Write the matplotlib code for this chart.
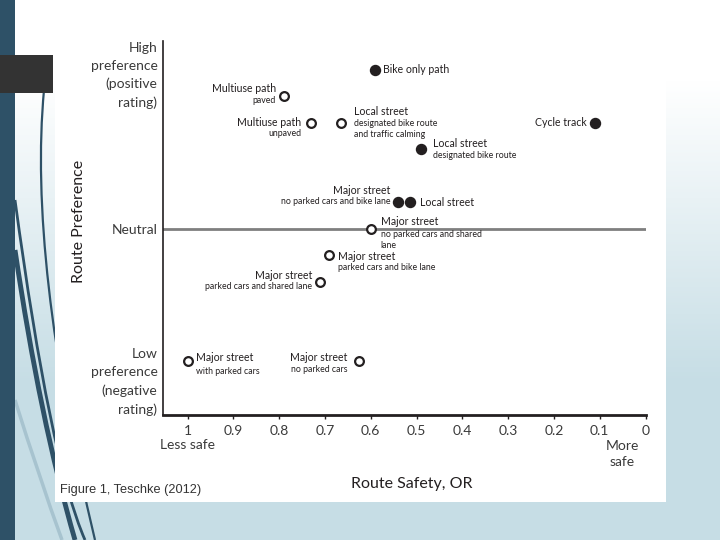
import numpy as np
import matplotlib.pyplot as plt
from matplotlib.patches import Rectangle, PathPatch
from matplotlib.path import Path
from matplotlib.transforms import blended_transform_factory

# --- values ---
safety_or = [0.59, 0.79, 0.73, 0.665, 0.11, 0.49, 0.54, 0.515, 0.60, 0.69, 0.71, 1.0, 0.625]
preference = [6, 5, 4, 4, 4, 3, 1, 1, 0, -1, -2, -5, -5]
filled = [True, False, False, False, True, True, True, True, False, False, False, False, False]
titles = ["Bike only path", "Multiuse path", "Multiuse path", "Local street", "Cycle track",
          "Local street", "Major street", "Local street", "Major street", "Major street",
          "Major street", "Major street", "Major street"]
subtitles = ["", "paved", "unpaved", "designated bike route\nand traffic calming", "",
             "designated bike route", "no parked cars and bike lane", "",
             "no parked cars and shared\nlane", "parked cars and bike lane",
             "parked cars and shared lane", "with parked cars", "no parked cars"]
x_ticks = [1, 0.9, 0.8, 0.7, 0.6, 0.5, 0.4, 0.3, 0.2, 0.1, 0]
x_tick_labels = ["1", "0.9", "0.8", "0.7", "0.6", "0.5", "0.4", "0.3", "0.2", "0.1", "0"]
y_ticks = [5.95, 0, -5.62]
y_tick_labels = ["High\npreference\n(positive\nrating)", "Neutral",
                 "Low\npreference\n(negative\nrating)"]

# label placement: (dx px, title dy px, subtitle dy px, ha)
layout = [(8, 0, 0, "left"), (-8, 8, -4, "right"), (-10, 0, -11, "right"),
          (13, 11, -1, "left"), (-8, 0, 0, "right"), (12, 6, -6, "left"),
          (-8, 12, 1, "right"), (10, 0, 0, "left"), (10, 7, -6, "left"),
          (9, -1, -12, "left"), (-8, 6, -5, "right"), (8, 4, -10, "left"),
          (-12, 4, -8, "right")]

FONT = ["Lato", "DejaVu Sans"]
TXT = "#231f20"
W, H = 720, 540

fig = plt.figure(figsize=(7.2, 5.4), dpi=100)

# --- slide background ---
bg = fig.add_axes([0, 0, 1, 1], zorder=-10)
bg.set_xlim(0, W); bg.set_ylim(H, 0); bg.axis("off")
t = np.clip((np.linspace(0, 1, 256) - 0.15) / 0.55, 0, 1)[:, None]
top = np.array([1.0, 1.0, 1.0]); bot = np.array([0.78, 0.87, 0.90])
grad = top[None, None, :] * (1 - t[..., None]) + bot[None, None, :] * t[..., None]
grad = np.repeat(grad, 4, axis=1)
bg.imshow(grad, extent=(0, W, H, 0), aspect="auto")

for (p0, c, p1, lw, col) in [((44, 90), (28, 260), (95, 540), 1.6, "#2e5167"),
                             ((15, 250), (40, 420), (75, 540), 3.5, "#2e5167"),
                             ((15, 200), (50, 460), (85, 540), 2.0, "#2e5167"),
                             ((15, 400), (40, 480), (62, 540), 2.5, "#a7c3cf")]:
    path = Path([p0, c, p1], [Path.MOVETO, Path.CURVE3, Path.CURVE3])
    bg.add_patch(PathPatch(path, fill=False, lw=lw, edgecolor=col))

bg.add_patch(Rectangle((0, 0), 15, H, color="#2e5167", lw=0))
bg.add_patch(Rectangle((55, 30), 611, 472, color="white", lw=0))
bg.add_patch(Rectangle((0, 55), 53, 38, color="#333333", lw=0))

# --- chart ---
ax = fig.add_axes([163 / W, 1 - 415 / H, (645.5 - 163) / W, (415 - 41) / H])
ax.set_facecolor("none")
ax.set_xlim(1.0535, 0)
ax.set_ylim(-7.02, 7.09)

ax.axhline(0, color="#7f7f7f", lw=2, zorder=1)

for i in range(len(safety_or)):
    if filled[i]:
        ax.plot(safety_or[i], preference[i], "o", ms=7.2, color="#231f20", zorder=3)
    else:
        ax.plot(safety_or[i], preference[i], "o", ms=6.3, mfc="white", mec="#231f20",
                mew=1.6, zorder=3)
    dx, dyt, dys, ha = layout[i]
    ax.annotate(titles[i], (safety_or[i], preference[i]), xytext=(dx, dyt),
                textcoords="offset pixels", ha=ha, va="center", fontsize=7.6,
                color=TXT, family=FONT)
    for k, line in enumerate(subtitles[i].split("\n")):
        if line:
            ax.annotate(line, (safety_or[i], preference[i]), xytext=(dx, dys - 11 * k),
                        textcoords="offset pixels", ha=ha, va="center", fontsize=6.3,
                        color=TXT, family=FONT)

for s in ["top", "right"]:
    ax.spines[s].set_visible(False)
ax.spines["left"].set_linewidth(1.2)
ax.spines["left"].set_color(TXT)
ax.spines["bottom"].set_linewidth(2)
ax.spines["bottom"].set_color(TXT)

ax.set_xticks(x_ticks)
ax.set_xticklabels(x_tick_labels, fontsize=10, color="#3a3a3a", family=FONT)
ax.tick_params(axis="x", direction="out", length=3, width=1, pad=4, color=TXT)
ax.set_yticks(y_ticks)
ax.set_yticklabels(y_tick_labels, fontsize=10, color="#3a3a3a", family=FONT,
                   linespacing=1.6)
ax.tick_params(axis="y", length=0, pad=4)

tr = blended_transform_factory(ax.transData, fig.transFigure)
ax.text(1.0, 1 - 445 / H, "Less safe", transform=tr, ha="center", va="center",
        fontsize=10, color="#3a3a3a", family=FONT)
ax.text(0.05, 1 - 453.5 / H, "More\nsafe", transform=tr, ha="center", va="center",
        fontsize=10, color="#3a3a3a", family=FONT, linespacing=1.4)

fig.text(412 / W, 1 - 484 / H, "Route Safety, OR", ha="center", va="center",
         fontsize=11.5, color=TXT, family=FONT)
fig.text(79 / W, 1 - 221 / H, "Route Preference", ha="center", va="center",
         rotation=90, fontsize=11.5, color=TXT, family=FONT)
fig.text(60 / W, 1 - 490 / H, "Figure 1, Teschke (2012)", ha="left", va="center",
         fontsize=9.2, color="#333333", family=["Liberation Sans", "DejaVu Sans"])

fig.savefig("out.png", dpi=100)
